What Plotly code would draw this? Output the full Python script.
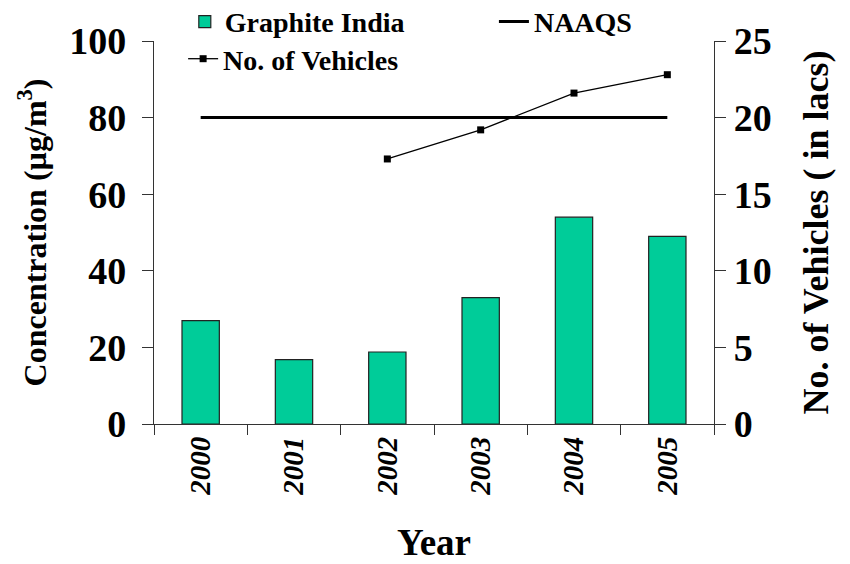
import plotly.graph_objects as go

years = ["2000", "2001", "2002", "2003", "2004", "2005"]
concentration = [27, 16.8, 18.8, 33, 54, 49]
naaqs = [80, 80, 80, 80, 80, 80]
vehicle_years = ["2002", "2003", "2004", "2005"]
vehicles = [17.3, 19.2, 21.6, 22.8]
left_ticks = [0, 20, 40, 60, 80, 100]
right_ticks = [0, 5, 10, 15, 20, 25]

FONT = "Liberation Serif"
BOLD = dict(family=FONT, weight="bold", color="black")

fig = go.Figure()
fig.add_trace(go.Bar(
    x=years, y=concentration, name="Graphite India",
    marker=dict(color="#00CC99", line=dict(color="#222222", width=1.2)),
    legend="legend",
))
fig.add_trace(go.Scatter(
    x=years, y=naaqs, name="NAAQS", mode="lines",
    line=dict(color="black", width=3), legend="legend2",
))
fig.add_trace(go.Scatter(
    x=vehicle_years, y=vehicles, name="No. of Vehicles", mode="lines+markers",
    line=dict(color="black", width=1.3),
    marker=dict(symbol="square", size=7, color="black"),
    yaxis="y2", legend="legend3",
))

axis_line = dict(showline=True, linecolor="#333333", linewidth=1.3,
                 ticks="outside", tickcolor="#333333", tickwidth=1.3,
                 showgrid=False, zeroline=False)

leg_common = dict(font=dict(BOLD, size=28), bgcolor="rgba(0,0,0,0)",
                  xanchor="left", yanchor="middle", orientation="h")

# page body has an 8px default margin, so the figure is shrunk by 8px
fig.update_layout(
    width=842, height=556,
    font=dict(family=FONT, color="black"),
    margin=dict(l=146, r=136, t=33, b=140, autoexpand=False),
    plot_bgcolor="white", paper_bgcolor="white",
    bargap=0.6,
    xaxis=dict(
        type="category", range=[-0.5, 5.5], tickson="boundaries", ticklen=10,
        tickangle=-90, tickfont=dict(family=FONT, weight="bold", style="italic", size=29, color="black"),
        title=dict(text="Year", font=dict(BOLD, size=37), standoff=34),
        **axis_line,
    ),
    yaxis=dict(
        range=[0, 100], tickvals=left_ticks, ticklen=11, ticklabelstandoff=8,
        tickfont=dict(BOLD, size=38),
        title=dict(text="Concentration (µg/m<sup>3</sup>)", font=dict(BOLD, size=32), standoff=13),
        **axis_line,
    ),
    yaxis2=dict(
        range=[0, 25], tickvals=right_ticks, ticklen=11, overlaying="y", side="right",
        ticklabelstandoff=0,
        tickfont=dict(BOLD, size=38),
        title=dict(text="No. of Vehicles ( in lacs)", font=dict(BOLD, size=36), standoff=32),
        **axis_line,
    ),
    legend=dict(leg_common, x=0.055, y=1.050),
    legend2=dict(leg_common, x=0.607, y=1.050),
    legend3=dict(leg_common, x=0.052, y=0.953),
    showlegend=True,
)

fig.write_html("out.html")
